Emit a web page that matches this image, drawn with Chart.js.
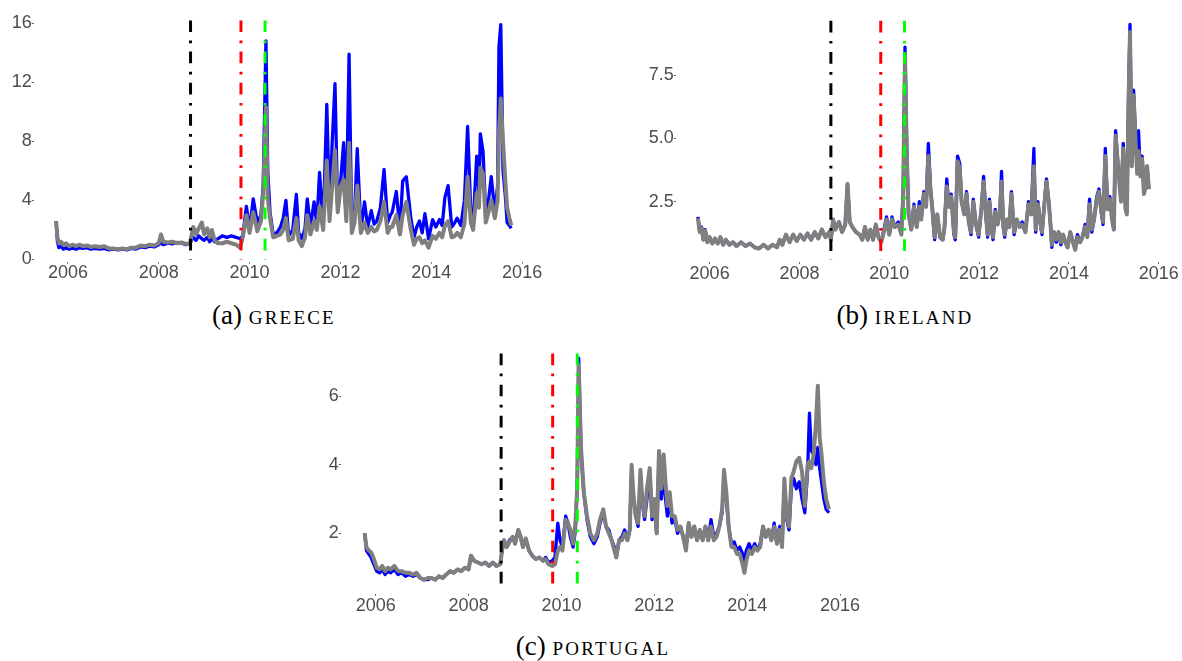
<!DOCTYPE html>
<html>
<head>
<meta charset="utf-8">
<script src="https://cdn.jsdelivr.net/npm/chart.js@4.4.1/dist/chart.umd.min.js"></script>
<style>
  body { margin: 0; background: #fff; width: 1182px; height: 661px; position: relative; overflow: hidden; }
  canvas { position: absolute; }
  .cap { position: absolute; font-family: "Liberation Serif", serif; font-size: 27px; line-height: 27px; color: #000; white-space: nowrap; transform: translateX(-50%); }
  .cap span { font-variant: small-caps; letter-spacing: 2.2px; }
</style>
</head>
<body>
<canvas id="greece" width="560" height="300" style="left:0px;top:0px"></canvas>
<canvas id="ireland" width="542" height="300" style="left:640px;top:0px"></canvas>
<canvas id="portugal" width="580" height="300" style="left:300px;top:330px"></canvas>
<div class="cap" style="left:274px;top:302px">(a) <span>greece</span></div>
<div class="cap" style="left:905px;top:302px">(b) <span>ireland</span></div>
<div class="cap" style="left:593px;top:633px">(c) <span>portugal</span></div>
<script>
// event dates (vertical dot-dash lines)
var eventDates = [2008.70, 2009.81, 2010.34];
var eventColors = ["#000000", "#ff0000", "#00ff00"];

var xTicks = [2006, 2008, 2010, 2012, 2014, 2016];

// greece
var greeceDates = [2005.74, 2005.77, 2005.80, 2005.85, 2005.90, 2005.96, 2006.03, 2006.10, 2006.18, 2006.25, 2006.33, 2006.42, 2006.50, 2006.60, 2006.70, 2006.80, 2006.90, 2007.00, 2007.10, 2007.20, 2007.30, 2007.40, 2007.50, 2007.60, 2007.70, 2007.80, 2007.90, 2008.00, 2008.05, 2008.10, 2008.20, 2008.30, 2008.40, 2008.50, 2008.60, 2008.69, 2008.72, 2008.76, 2008.82, 2008.88, 2008.95, 2009.00, 2009.07, 2009.12, 2009.17, 2009.23, 2009.30, 2009.40, 2009.50, 2009.60, 2009.70, 2009.79, 2009.85, 2009.93, 2010.00, 2010.08, 2010.17, 2010.25, 2010.30, 2010.36, 2010.40, 2010.45, 2010.52, 2010.60, 2010.68, 2010.74, 2010.80, 2010.86, 2010.95, 2011.03, 2011.08, 2011.15, 2011.22, 2011.27, 2011.34, 2011.42, 2011.48, 2011.54, 2011.62, 2011.70, 2011.76, 2011.82, 2011.88, 2011.94, 2012.01, 2012.07, 2012.13, 2012.19, 2012.25, 2012.31, 2012.37, 2012.45, 2012.53, 2012.60, 2012.68, 2012.74, 2012.80, 2012.88, 2012.96, 2013.04, 2013.10, 2013.14, 2013.23, 2013.31, 2013.37, 2013.45, 2013.55, 2013.62, 2013.68, 2013.74, 2013.80, 2013.86, 2013.94, 2014.03, 2014.10, 2014.18, 2014.24, 2014.30, 2014.37, 2014.45, 2014.52, 2014.57, 2014.65, 2014.73, 2014.80, 2014.87, 2014.92, 2015.00, 2015.05, 2015.08, 2015.14, 2015.20, 2015.26, 2015.32, 2015.40, 2015.46, 2015.49, 2015.53, 2015.58, 2015.63, 2015.67, 2015.72, 2015.76];
var greeceBlue = [2.6, 1.2, 0.8, 0.9, 0.7, 0.8, 0.7, 0.8, 0.7, 0.8, 0.75, 0.8, 0.7, 0.75, 0.7, 0.75, 0.65, 0.7, 0.65, 0.7, 0.65, 0.75, 0.7, 0.85, 0.8, 0.9, 0.85, 1.0, 1.1, 1.0, 1.1, 1.05, 1.15, 1.1, 1.0, 1.1, 1.3, 1.5, 1.3, 1.6, 1.4, 1.3, 1.5, 1.2, 1.4, 1.2, 1.4, 1.6, 1.5, 1.6, 1.5, 1.4, 1.6, 3.6, 2.0, 4.1, 2.5, 3.0, 5.0, 14.8, 6.0, 3.2, 1.7, 1.8, 2.2, 2.8, 4.0, 1.6, 2.0, 4.4, 1.8, 1.4, 2.1, 4.1, 2.2, 3.9, 2.4, 5.9, 2.3, 10.5, 3.2, 8.0, 11.9, 3.3, 5.5, 7.9, 3.4, 13.9, 2.0, 3.0, 7.5, 2.0, 3.9, 2.2, 3.3, 2.4, 2.6, 3.5, 6.1, 2.5, 3.0, 3.2, 4.6, 2.0, 5.3, 5.6, 2.8, 1.5, 2.2, 2.6, 1.8, 3.1, 1.4, 2.7, 2.2, 2.7, 2.3, 4.2, 5.0, 2.2, 2.5, 2.8, 2.3, 4.0, 9.0, 3.2, 2.3, 7.0, 4.5, 8.5, 7.3, 3.0, 4.0, 5.6, 3.2, 5.0, 14.4, 15.9, 6.0, 4.3, 2.5, 2.3, 2.1];
var greeceGray = [2.6, 1.5, 1.1, 1.2, 1.0, 1.1, 0.9, 1.0, 0.9, 1.0, 0.9, 0.95, 0.85, 0.9, 0.85, 0.9, 0.75, 0.75, 0.7, 0.75, 0.7, 0.8, 0.8, 0.95, 0.9, 1.0, 0.95, 1.1, 1.7, 1.2, 1.15, 1.2, 1.1, 1.15, 1.05, 1.1, 1.6, 2.2, 1.7, 2.1, 2.5, 1.7, 2.1, 1.5, 2.0, 1.3, 1.1, 1.1, 1.2, 1.1, 1.0, 0.8, 1.5, 3.0, 1.8, 3.2, 1.9, 2.6, 4.5, 10.3, 4.2, 2.8, 1.5, 1.6, 1.7, 2.0, 2.8, 1.3, 1.4, 2.8, 1.3, 0.9, 1.5, 3.0, 1.7, 2.6, 2.0, 3.6, 2.0, 6.7, 2.6, 5.0, 7.4, 3.2, 5.0, 5.4, 2.6, 7.9, 1.8, 2.5, 5.0, 1.8, 2.5, 1.8, 2.2, 1.9, 2.0, 2.6, 3.9, 1.8, 2.2, 2.2, 3.0, 1.7, 3.0, 3.9, 2.0, 1.0, 1.4, 1.5, 1.1, 1.3, 0.8, 1.6, 1.4, 1.8, 1.5, 2.3, 2.6, 1.5, 1.6, 1.8, 1.5, 2.4, 5.6, 2.5, 2.0, 4.5, 3.5, 6.2, 5.8, 2.5, 3.2, 4.0, 2.8, 4.0, 8.5, 10.9, 8.0, 5.3, 3.5, 2.8, 2.3];
var greeceYTicks = [0, 4, 8, 12, 16];
var greeceYLabels = ["0", "4", "8", "12", "16"];
var greeceSpan = [0, 16.18];

// ireland
var irelandDates = [2005.74, 2005.78, 2005.82, 2005.86, 2005.90, 2005.95, 2006.00, 2006.06, 2006.12, 2006.18, 2006.24, 2006.30, 2006.36, 2006.44, 2006.52, 2006.60, 2006.70, 2006.80, 2006.90, 2007.00, 2007.10, 2007.20, 2007.30, 2007.40, 2007.50, 2007.56, 2007.62, 2007.70, 2007.78, 2007.86, 2007.94, 2008.02, 2008.10, 2008.18, 2008.26, 2008.34, 2008.42, 2008.50, 2008.58, 2008.66, 2008.70, 2008.75, 2008.80, 2008.88, 2008.95, 2009.02, 2009.07, 2009.12, 2009.18, 2009.26, 2009.34, 2009.40, 2009.46, 2009.52, 2009.58, 2009.64, 2009.70, 2009.76, 2009.82, 2009.88, 2009.94, 2010.00, 2010.06, 2010.12, 2010.20, 2010.27, 2010.31, 2010.35, 2010.39, 2010.43, 2010.49, 2010.55, 2010.61, 2010.67, 2010.71, 2010.77, 2010.82, 2010.87, 2010.92, 2010.96, 2011.01, 2011.07, 2011.13, 2011.19, 2011.23, 2011.28, 2011.33, 2011.38, 2011.44, 2011.47, 2011.52, 2011.57, 2011.61, 2011.67, 2011.72, 2011.77, 2011.82, 2011.87, 2011.93, 2011.99, 2012.05, 2012.10, 2012.15, 2012.19, 2012.23, 2012.28, 2012.31, 2012.36, 2012.41, 2012.46, 2012.50, 2012.54, 2012.57, 2012.62, 2012.67, 2012.72, 2012.78, 2012.84, 2012.90, 2012.96, 2013.03, 2013.10, 2013.16, 2013.22, 2013.26, 2013.31, 2013.36, 2013.40, 2013.46, 2013.50, 2013.55, 2013.59, 2013.62, 2013.67, 2013.72, 2013.77, 2013.82, 2013.87, 2013.92, 2013.97, 2014.03, 2014.09, 2014.14, 2014.19, 2014.25, 2014.30, 2014.36, 2014.41, 2014.46, 2014.51, 2014.56, 2014.62, 2014.67, 2014.72, 2014.76, 2014.81, 2014.86, 2014.91, 2014.96, 2015.00, 2015.04, 2015.09, 2015.13, 2015.16, 2015.21, 2015.26, 2015.29, 2015.33, 2015.36, 2015.40, 2015.44, 2015.48, 2015.52, 2015.55, 2015.59, 2015.63, 2015.67, 2015.71, 2015.74, 2015.78];
var irelandBlue = [1.9, 1.3, 1.5, 1.0, 1.4, 0.9, 1.1, 0.85, 1.05, 0.85, 1.1, 0.8, 1.0, 0.8, 0.9, 0.75, 0.9, 0.75, 0.85, 0.7, 0.65, 0.8, 0.65, 0.8, 0.7, 1.0, 0.8, 1.2, 0.9, 1.2, 0.95, 1.2, 1.0, 1.25, 1.0, 1.3, 1.05, 1.4, 1.1, 1.3, 1.0, 1.8, 1.4, 1.7, 1.3, 1.6, 3.2, 1.7, 1.5, 1.3, 1.2, 1.0, 1.5, 1.0, 1.4, 1.0, 1.6, 1.1, 0.9, 1.4, 1.9, 1.2, 1.9, 1.5, 1.7, 1.3, 2.8, 8.6, 4.5, 2.0, 1.4, 2.4, 1.5, 2.5, 1.8, 2.9, 2.3, 4.8, 3.0, 2.2, 1.0, 2.0, 1.1, 1.0, 1.5, 3.4, 2.3, 2.8, 1.2, 1.0, 4.3, 4.0, 2.5, 2.0, 2.9, 1.7, 1.2, 2.6, 1.6, 1.1, 2.2, 3.5, 2.0, 1.1, 2.6, 1.4, 1.0, 2.2, 1.6, 2.0, 3.7, 1.5, 1.1, 1.8, 1.5, 2.9, 1.2, 1.8, 1.5, 1.7, 1.3, 2.5, 2.0, 4.6, 1.3, 2.5, 1.7, 1.2, 2.6, 3.4, 2.5, 1.6, 0.7, 1.3, 0.9, 1.3, 0.8, 1.2, 0.9, 0.7, 1.3, 0.9, 0.8, 1.2, 0.9, 1.1, 1.6, 1.2, 2.6, 1.3, 1.8, 2.7, 3.0, 2.1, 1.6, 4.6, 2.3, 2.7, 1.9, 1.4, 5.3, 4.0, 3.2, 2.6, 4.8, 2.3, 2.1, 6.9, 9.5, 4.0, 6.9, 5.2, 3.8, 5.3, 3.6, 4.3, 2.9, 3.2, 3.9, 3.0];
var irelandGray = [1.85, 1.3, 1.45, 1.0, 1.35, 0.9, 1.1, 0.85, 1.05, 0.85, 1.1, 0.8, 1.0, 0.8, 0.9, 0.75, 0.9, 0.75, 0.85, 0.7, 0.65, 0.8, 0.65, 0.8, 0.7, 1.0, 0.8, 1.2, 0.9, 1.2, 0.95, 1.2, 1.0, 1.25, 1.0, 1.3, 1.05, 1.4, 1.1, 1.3, 1.0, 1.8, 1.4, 1.7, 1.3, 1.6, 3.2, 1.7, 1.5, 1.3, 1.2, 1.0, 1.5, 1.0, 1.4, 1.0, 1.6, 1.1, 0.9, 1.3, 1.8, 1.2, 1.8, 1.5, 1.6, 1.2, 2.7, 8.3, 4.4, 2.0, 1.4, 2.3, 1.5, 2.3, 1.8, 2.8, 2.3, 4.3, 2.9, 2.2, 1.1, 2.0, 1.1, 1.0, 1.5, 3.1, 2.3, 2.7, 1.3, 1.1, 4.1, 3.8, 2.5, 2.0, 2.8, 1.7, 1.3, 2.5, 1.6, 1.2, 2.2, 3.3, 2.0, 1.2, 2.5, 1.4, 1.1, 2.1, 1.6, 2.0, 3.3, 1.5, 1.2, 1.8, 1.5, 2.8, 1.3, 1.8, 1.5, 1.6, 1.3, 2.4, 2.0, 3.9, 1.4, 2.4, 1.7, 1.3, 2.5, 3.3, 2.5, 1.6, 0.8, 1.3, 1.0, 1.3, 0.9, 1.2, 0.9, 0.7, 1.3, 0.9, 0.6, 1.1, 0.9, 1.1, 1.5, 1.1, 2.4, 1.4, 1.8, 2.6, 2.9, 2.1, 1.7, 4.3, 2.2, 2.6, 1.8, 1.4, 5.1, 4.0, 3.1, 2.5, 4.6, 2.2, 2.0, 6.6, 9.2, 3.9, 6.7, 5.0, 3.6, 4.5, 3.5, 4.2, 2.8, 3.1, 3.9, 3.0];
var irelandYTicks = [2.5, 5.0, 7.5];
var irelandYLabels = ["2.5", "5.0", "7.5"];
var irelandSpan = [0.22, 9.64];

// portugal
var portugalDates = [2005.76, 2005.80, 2005.85, 2005.90, 2005.96, 2006.02, 2006.08, 2006.14, 2006.20, 2006.26, 2006.32, 2006.40, 2006.48, 2006.56, 2006.64, 2006.72, 2006.80, 2006.88, 2006.96, 2007.04, 2007.12, 2007.20, 2007.28, 2007.36, 2007.44, 2007.52, 2007.60, 2007.68, 2007.76, 2007.84, 2007.92, 2008.00, 2008.05, 2008.12, 2008.20, 2008.28, 2008.36, 2008.44, 2008.52, 2008.60, 2008.68, 2008.72, 2008.76, 2008.82, 2008.88, 2008.95, 2009.00, 2009.07, 2009.12, 2009.17, 2009.23, 2009.30, 2009.37, 2009.45, 2009.52, 2009.60, 2009.66, 2009.72, 2009.80, 2009.86, 2009.92, 2009.97, 2010.02, 2010.09, 2010.14, 2010.19, 2010.25, 2010.30, 2010.34, 2010.37, 2010.42, 2010.48, 2010.55, 2010.62, 2010.70, 2010.77, 2010.83, 2010.90, 2010.96, 2011.02, 2011.08, 2011.14, 2011.18, 2011.24, 2011.30, 2011.36, 2011.42, 2011.47, 2011.51, 2011.55, 2011.60, 2011.65, 2011.70, 2011.74, 2011.79, 2011.84, 2011.90, 2011.95, 2012.00, 2012.05, 2012.10, 2012.15, 2012.20, 2012.24, 2012.28, 2012.33, 2012.38, 2012.44, 2012.50, 2012.56, 2012.62, 2012.68, 2012.74, 2012.80, 2012.86, 2012.92, 2012.98, 2013.04, 2013.10, 2013.16, 2013.22, 2013.28, 2013.34, 2013.40, 2013.46, 2013.50, 2013.55, 2013.60, 2013.66, 2013.72, 2013.78, 2013.84, 2013.90, 2013.94, 2013.98, 2014.04, 2014.10, 2014.16, 2014.22, 2014.28, 2014.34, 2014.40, 2014.46, 2014.52, 2014.58, 2014.64, 2014.70, 2014.75, 2014.80, 2014.85, 2014.90, 2014.95, 2015.00, 2015.06, 2015.12, 2015.18, 2015.24, 2015.30, 2015.34, 2015.38, 2015.43, 2015.48, 2015.52, 2015.56, 2015.60, 2015.65, 2015.70, 2015.76];
var portugalBlue = [2.0, 1.5, 1.4, 1.3, 1.1, 0.9, 0.85, 0.95, 0.8, 0.9, 0.85, 0.95, 0.8, 0.85, 0.75, 0.8, 0.75, 0.8, 0.7, 0.65, 0.65, 0.7, 0.65, 0.75, 0.7, 0.8, 0.9, 0.85, 0.95, 0.9, 1.0, 0.95, 1.35, 1.2, 1.15, 1.1, 1.15, 1.05, 1.15, 1.05, 1.1, 1.5, 1.8, 1.6, 1.8, 1.9, 1.7, 2.1, 1.9, 1.6, 1.85, 1.5, 1.35, 1.25, 1.3, 1.2, 1.3, 1.15, 1.2, 1.3, 2.3, 1.8, 1.6, 2.5, 2.3, 1.9, 1.6, 2.1, 3.5, 7.1, 4.4, 3.2, 2.4, 1.9, 1.7, 1.9, 2.3, 2.6, 2.2, 2.1, 1.8, 1.6, 1.3, 1.8, 1.9, 2.1, 1.8, 2.1, 3.8, 3.0, 2.5, 2.2, 3.6, 2.9, 2.4, 3.0, 3.8, 2.4, 2.8, 2.0, 4.2, 3.0, 3.8, 3.0, 2.5, 3.0, 2.3, 2.4, 2.0, 2.2, 1.9, 1.6, 2.3, 1.9, 2.2, 1.8, 2.1, 1.8, 2.2, 1.8, 2.4, 1.9, 2.0, 2.2, 2.6, 3.7, 3.0, 2.2, 1.7, 1.75, 1.5, 1.6, 1.4, 1.2, 1.5, 1.7, 1.5, 1.7, 1.5, 1.7, 2.2, 1.9, 2.1, 1.8, 2.3, 1.7, 2.2, 1.7, 3.4, 2.4, 2.1, 3.3, 3.6, 3.3, 3.5, 3.0, 2.6, 3.8, 5.5, 4.4, 4.3, 4.0, 4.5, 3.9, 3.5, 3.0, 2.7, 2.6];
var portugalGray = [2.0, 1.6, 1.5, 1.45, 1.25, 1.0, 0.95, 1.05, 0.9, 1.0, 0.95, 1.05, 0.9, 0.9, 0.85, 0.85, 0.8, 0.85, 0.7, 0.65, 0.7, 0.7, 0.65, 0.75, 0.7, 0.8, 0.9, 0.85, 0.95, 0.9, 1.0, 0.95, 1.35, 1.2, 1.15, 1.1, 1.15, 1.05, 1.15, 1.05, 1.1, 1.5, 1.8, 1.6, 1.75, 1.9, 1.7, 2.1, 1.9, 1.6, 1.85, 1.5, 1.35, 1.25, 1.3, 1.2, 1.25, 1.1, 1.05, 1.1, 1.5, 1.6, 1.5, 2.4, 2.3, 2.1, 1.7, 2.3, 3.4, 6.9, 4.5, 3.2, 2.5, 2.0, 1.8, 2.0, 2.4, 2.7, 2.2, 2.0, 1.8, 1.5, 1.3, 1.8, 1.8, 2.0, 1.8, 2.1, 4.0, 3.1, 2.5, 2.3, 3.85, 3.0, 2.5, 3.3, 3.9, 2.5, 3.0, 2.0, 4.4, 3.3, 4.3, 3.5, 2.8, 3.2, 2.5, 2.5, 2.1, 2.2, 1.9, 1.5, 2.3, 1.9, 2.2, 1.8, 2.1, 1.8, 2.2, 1.8, 2.2, 1.8, 1.9, 2.2, 2.7, 3.85, 3.2, 2.2, 1.6, 1.6, 1.4, 1.4, 1.1, 0.85, 1.2, 1.5, 1.4, 1.6, 1.5, 1.6, 2.2, 1.9, 2.1, 1.8, 2.2, 1.7, 2.1, 1.6, 3.6, 2.5, 2.2, 3.6, 3.8, 4.1, 4.2, 3.8, 2.8, 4.0, 4.1, 3.9, 4.3, 5.2, 6.3, 4.8, 4.3, 3.5, 3.0, 2.7];
var portugalYTicks = [2, 4, 6];
var portugalYLabels = ["2", "4", "6"];
var portugalSpan = [0.3, 7.24];

var xMin = 2005.247;
var xMax = 2016.235;

function makePanel(id, dates, blue, gray, yTicks, yLabels, yMin, yMax, span, box) {
  var blueData = [];
  var grayData = [];
  for (var i = 0; i < dates.length; i++) {
    blueData.push({ x: dates[i], y: blue[i] });
    grayData.push({ x: dates[i], y: gray[i] });
  }
  var datasets = [
    { data: grayData, borderColor: "#7f7f7f", borderWidth: 4, order: 1 },
    { data: blueData, borderColor: "#0000ff", borderWidth: 3.3, order: 2 },
  ];
  for (var k = 0; k < eventDates.length; k++) {
    datasets.push({
      data: [{ x: eventDates[k], y: span[1] }, { x: eventDates[k], y: span[0] }],
      borderColor: eventColors[k],
      borderWidth: 3,
      borderDash: [11.7, 8.4, 2.7, 8.4],
      order: 0,
    });
  }
  var tickFont = { family: "Liberation Sans", size: 18 };
  return new Chart(document.getElementById(id), {
    type: "line",
    data: { datasets: datasets },
    options: {
      responsive: false,
      animation: false,
      layout: { padding: { top: box.top, right: box.right, left: 0, bottom: 0 } },
      elements: { point: { radius: 0 }, line: { tension: 0, fill: false, borderCapStyle: "butt", borderJoinStyle: "round" } },
      plugins: { legend: { display: false }, tooltip: { enabled: false } },
      scales: {
        x: {
          type: "linear",
          min: xMin,
          max: xMax,
          border: { display: false },
          grid: { drawOnChartArea: false, drawTicks: true, tickLength: 2, color: "#666" },
          ticks: {
            autoSkip: false, maxRotation: 0, padding: -1, color: "#4d4d4d", font: tickFont,
            callback: function (v) { return String(v); },
          },
          afterBuildTicks: function (scale) {
            scale.ticks = xTicks.map(function (v) { return { value: v }; });
          },
          afterFit: function (scale) {
            scale.height = box.xh;
            scale.paddingLeft = 0;
            scale.paddingRight = 0;
          },
        },
        y: {
          type: "linear",
          min: yMin,
          max: yMax,
          border: { display: false },
          grid: { drawOnChartArea: false, drawTicks: true, tickLength: 2, color: "#666" },
          ticks: {
            autoSkip: false, padding: 0, color: "#4d4d4d", font: tickFont,
            callback: function (v, idx) { return yLabels[idx]; },
          },
          afterBuildTicks: function (scale) {
            scale.ticks = yTicks.map(function (v) { return { value: v }; });
          },
          afterFit: function (scale) {
            scale.width = box.yw;
            scale.paddingTop = 0;
            scale.paddingBottom = 0;
          },
        },
      },
    },
  });
}

makePanel("greece", greeceDates, greeceBlue, greeceGray, greeceYTicks, greeceYLabels, -0.15, 16.6, greeceSpan,
  { top: 14.2, right: 27.2, yw: 33.7, xh: 38.3 });
makePanel("ireland", irelandDates, irelandBlue, irelandGray, irelandYTicks, irelandYLabels, 0.12, 9.9, irelandSpan,
  { top: 14.2, right: 12.7, yw: 35.8, xh: 38 });
makePanel("portugal", portugalDates, portugalBlue, portugalGray, portugalYTicks, portugalYLabels, 0.24, 7.5, portugalSpan,
  { top: 14.5, right: 29, yw: 40.8, xh: 36.2 });
</script>
</body>
</html>
